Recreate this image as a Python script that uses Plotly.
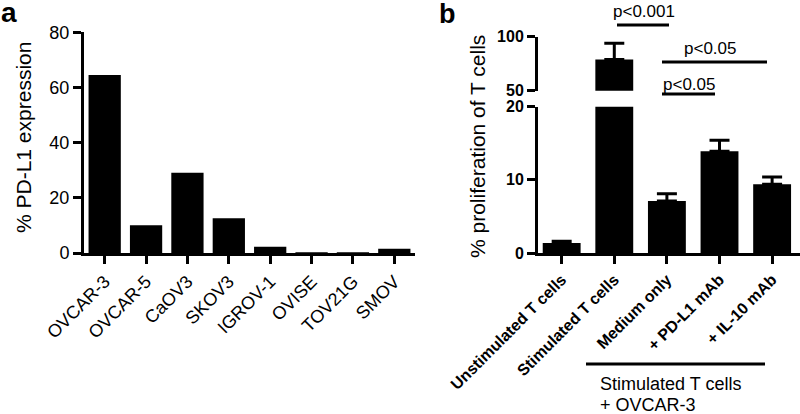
import plotly.graph_objects as go

# ---- data ----
cell_lines = ["OVCAR-3", "OVCAR-5", "CaOV3", "SKOV3", "IGROV-1", "OVISE", "TOV21G", "SMOV"]
pdl1_expression = [64.5, 10.1, 29.1, 12.6, 2.3, 0.2, 0.2, 1.5]

conditions = ["Unstimulated T cells", "Stimulated T cells", "Medium only", "+ PD-L1 mAb", "+ IL-10 mAb"]
proliferation = [1.35, 79.0, 7.1, 13.9, 9.4]
proliferation_err = [0.25, 15.0, 1.0, 1.5, 1.0]

lower_ticks = [0, 10, 20]
upper_ticks = [50, 100]

W, H = 800, 414
FONT = "Liberation Sans, Arial, sans-serif"


def X(px):
    return px / W


def Y(py):
    return 1 - py / H


fig = go.Figure()

fig.add_trace(go.Bar(x=cell_lines, y=pdl1_expression, marker=dict(color="black", line=dict(width=0)),
                     width=0.78, xaxis="x", yaxis="y", showlegend=False))

err = dict(type="data", array=proliferation_err, symmetric=False, arrayminus=[0] * len(conditions),
           color="black", thickness=3, width=10)
fig.add_trace(go.Bar(x=conditions, y=proliferation, marker=dict(color="black", line=dict(width=0)),
                     width=0.72, error_y=err, xaxis="x2", yaxis="y2", showlegend=False))
fig.add_trace(go.Bar(x=conditions, y=proliferation, marker=dict(color="black", line=dict(width=0)),
                     width=0.72, error_y=err, xaxis="x3", yaxis="y3", showlegend=False))

axis_common = dict(showline=True, linecolor="black", linewidth=3, ticks="outside", ticklen=8,
                   tickwidth=3, tickcolor="black", showgrid=False, zeroline=False, automargin=False)

fig.update_layout(
    width=W, height=H, margin=dict(l=0, r=0, t=0, b=0),
    paper_bgcolor="white", plot_bgcolor="rgba(0,0,0,0)",
    font=dict(family=FONT, color="black"),
    bargap=0.2,
    xaxis=dict(domain=[X(84), X(415)], anchor="y", range=[-0.5, 7.5], tickangle=-45,
               tickfont=dict(size=18, family=FONT), **axis_common),
    yaxis=dict(domain=[Y(253), Y(32.3)], anchor="x", range=[0, 80], dtick=20,
               tickfont=dict(size=18, family=FONT), **axis_common),
    xaxis2=dict(domain=[X(538), 1.0], anchor="y2", range=[-0.45, 4.53], tickangle=-45,
                tickfont=dict(size=16, family=FONT, weight="bold"), **axis_common),
    yaxis2=dict(domain=[Y(253), Y(106.7)], anchor="x2", range=[0, 20], tickvals=lower_ticks,
                tickfont=dict(size=16, family=FONT, weight="bold"), **axis_common),
    xaxis3=dict(domain=[X(538), 1.0], anchor="y3", range=[-0.45, 4.53], matches="x2", visible=False),
    yaxis3=dict(domain=[Y(90.7), Y(36.7)], anchor="x3", range=[50, 100], tickvals=upper_ticks,
                tickfont=dict(size=16, family=FONT, weight="bold"), **axis_common),
)

ann = []
ann.append(dict(text="a", x=X(9), y=Y(12), xref="paper", yref="paper", showarrow=False,
                font=dict(size=28, family=FONT, weight="bold"), xanchor="center", yanchor="middle"))
ann.append(dict(text="b", x=X(447), y=Y(14), xref="paper", yref="paper", showarrow=False,
                font=dict(size=27, family=FONT, weight="bold"), xanchor="center", yanchor="middle"))
ann.append(dict(text="% PD-L1 expression", x=X(24), y=Y(138), xref="paper", yref="paper",
                showarrow=False, textangle=-90, font=dict(size=21, family=FONT),
                xanchor="center", yanchor="middle"))
ann.append(dict(text="% proliferation of T cells", x=X(477), y=Y(146), xref="paper", yref="paper",
                showarrow=False, textangle=-90, font=dict(size=21, family=FONT),
                xanchor="center", yanchor="middle"))
ann.append(dict(text="p<0.001", x=X(644), y=Y(11), xref="paper", yref="paper", showarrow=False,
                font=dict(size=17, family=FONT), xanchor="center", yanchor="middle"))
ann.append(dict(text="p<0.05", x=X(710), y=Y(49), xref="paper", yref="paper", showarrow=False,
                font=dict(size=17, family=FONT), xanchor="center", yanchor="middle"))
ann.append(dict(text="p<0.05", x=X(689), y=Y(84), xref="paper", yref="paper", showarrow=False,
                font=dict(size=17, family=FONT), xanchor="center", yanchor="middle"))
ann.append(dict(text="Stimulated T cells", x=X(598), y=Y(384), xref="paper", yref="paper",
                showarrow=False, font=dict(size=18, family=FONT), xanchor="left", yanchor="middle"))
ann.append(dict(text="+ OVCAR-3", x=X(598), y=Y(405), xref="paper", yref="paper",
                showarrow=False, font=dict(size=18, family=FONT), xanchor="left", yanchor="middle"))
fig.update_layout(annotations=ann)

lines = [(617, 669, 25), (662, 767, 62), (662, 715, 94), (586, 765, 364)]
fig.update_layout(shapes=[dict(type="line", xref="paper", yref="paper", x0=X(a), x1=X(b), y0=Y(c), y1=Y(c),
                               line=dict(color="black", width=3)) for a, b, c in lines])

fig.write_html("out.html", config={"displayModeBar": False},
               post_script="document.body.style.margin='0px';document.body.style.overflow='hidden';")
